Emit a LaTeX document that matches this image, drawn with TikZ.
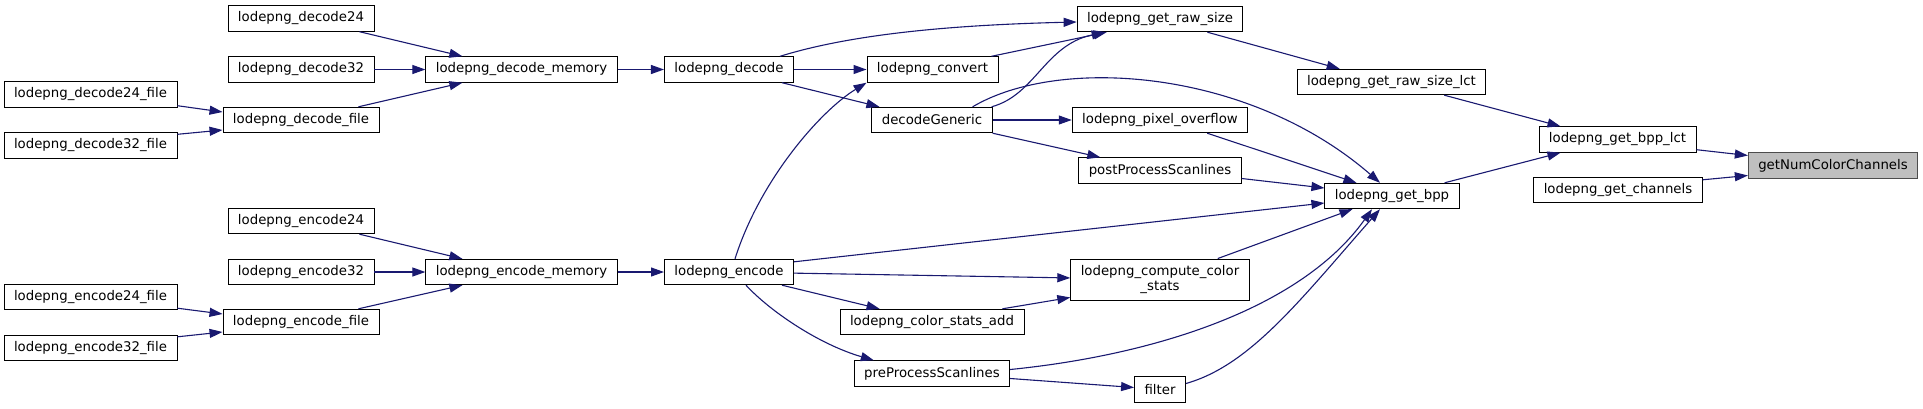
\documentclass[tikz,border=0pt]{standalone}
\usepackage{fontspec}
\setmainfont{DejaVu Sans}
\usepackage{xcolor}
\usepackage{tikz}
\usetikzlibrary{arrows.meta,calc}
\definecolor{edgeblue}{HTML}{191970}
\definecolor{hilite}{HTML}{BFBFBF}

\begin{document}
\begin{tikzpicture}[x=1pt,y=-1pt,
        fn/.style={draw=black,fill=white,line width=0.9pt,inner xsep=10pt,inner ysep=0pt,
                minimum height=25.5pt,font=\fontsize{13.3}{15.5}\selectfont},
        call/.style={draw=edgeblue,line width=1.1pt,-{Triangle[length=13pt,width=9pt]}}]
        \useasboundingbox (0,0) rectangle (1923,408);
        \node[fn] (d24) at (301,18.5) {lodepng\_decode24};
        \node[fn] (d32) at (301,69.5) {lodepng\_decode32};
        \node[fn] (dmem) at (521.5,69.5) {lodepng\_decode\_memory};
        \node[fn] (d24f) at (90.5,94.5) {lodepng\_decode24\_file};
        \node[fn] (dfile) at (301,120) {lodepng\_decode\_file};
        \node[fn] (d32f) at (90.5,145.5) {lodepng\_decode32\_file};
        \node[fn] (e24) at (301,221) {lodepng\_encode24};
        \node[fn] (e32) at (301,272) {lodepng\_encode32};
        \node[fn] (emem) at (521.5,272) {lodepng\_encode\_memory};
        \node[fn] (e24f) at (90.5,297) {lodepng\_encode24\_file};
        \node[fn] (efile) at (301,322) {lodepng\_encode\_file};
        \node[fn] (e32f) at (90.5,348) {lodepng\_encode32\_file};
        \node[fn] (dec) at (729,69.5) {lodepng\_decode};
        \node[fn] (conv) at (932.5,69.5) {lodepng\_convert};
        \node[fn] (dgen) at (932,120) {decodeGeneric};
        \node[fn] (enc) at (729,272) {lodepng\_encode};
        \node[fn] (csadd) at (932,322) {lodepng\_color\_stats\_add};
        \node[fn] (pre) at (932,373.5) {preProcessScanlines};
        \node[fn] (rawsz) at (1160,19) {lodepng\_get\_raw\_size};
        \node[fn] (pixov) at (1160,120) {lodepng\_pixel\_overflow};
        \node[fn] (post) at (1160,170.5) {postProcessScanlines};
        \node[fn,align=center,minimum height=41pt] (ccs) at (1160,279.5) {lodepng\_compute\_color\\\_stats};
        \node[fn] (filt) at (1160,389.5) {filter};
        \node[fn] (rawlct) at (1391.5,82) {lodepng\_get\_raw\_size\_lct};
        \node[fn] (bpp) at (1392,196) {lodepng\_get\_bpp};
        \node[fn] (bpplct) at (1617.5,139.5) {lodepng\_get\_bpp\_lct};
        \node[fn] (chan) at (1618,190) {lodepng\_get\_channels};
        \node[fn,draw=black!70,fill=hilite] (ncc) at (1833,165.5) {getNumColorChannels};

        \draw[call] ($(d24.south east)+(-15,0)$) -- ($(dmem.north west)+(37,0)$);
        \draw[call] (d32) -- (dmem);
        \draw[call] ($(dfile.north east)+(-21,0)$) -- ($(dmem.south west)+(37,0)$);
        \draw[call] ($(d24f.south east)+(0,-2)$) -- ($(dfile.west)+(0,-8)$);
        \draw[call] ($(d32f.north east)+(0,2)$) -- ($(dfile.west)+(0,10)$);
        \draw[call] (dmem) -- (dec);
        \draw[call] ($(e24.south east)+(-15,0)$) -- ($(emem.north west)+(37,0)$);
        \draw[call] (e32) -- (emem);
        \draw[call] ($(efile.north east)+(-21,0)$) -- ($(emem.south west)+(37,0)$);
        \draw[call] ($(e24f.south east)+(0,-2)$) -- ($(efile.west)+(0,-8)$);
        \draw[call] ($(e32f.north east)+(0,2)$) -- ($(efile.west)+(0,10)$);
        \draw[call] (emem) -- (enc);

        \draw[call] ($(dec.north east)+(-14,0)$) .. controls +(71,-22) and +(-127,3) .. ($(rawsz.west)+(0,3)$);
        \draw[call] (dec) -- (conv);
        \draw[call] ($(dec.south east)+(-12,0)$) -- ($(dgen.north west)+(8,0)$);
        \draw[call] ($(conv.north east)+(-7,0)$) -- ($(rawsz.south west)+(30,0)$);
        \draw[call] ($(dgen.north east)+(-1,0)$) .. controls +(44,-12) and +(-60,13) .. ($(rawsz.south west)+(28,0)$);
        \draw[call] (dgen) -- (pixov);
        \draw[call] (dgen.south east) -- ($(post.north west)+(22,0)$);
        \draw[call] ($(dgen.north east)+(-20,0)$) .. controls +(88,-52) and +(-130,-113) .. ($(bpp.north)+(-12,0)$);
        \draw[call] ($(enc.north)+(6,0)$) .. controls +(25,-79) and +(-46,28) .. (conv.south west);
        \draw[call] (enc) -- (ccs);
        \draw[call] ($(enc.south east)+(-12,0)$) -- ($(csadd.north west)+(40,0)$);
        \draw[call] ($(enc.south)+(17,0)$) .. controls +(24,26) and +(-55,-16) .. ($(pre.north west)+(20,0)$);
        \draw[call] ($(csadd.north east)+(-22,0)$) -- ($(ccs.south west)+(0,-3)$);
        \draw[call] ($(pre.east)+(0,5)$) -- ($(filt.west)+(0,-2)$);

        \draw[call] ($(rawsz.south east)+(-36,0)$) -- ($(rawlct.north west)+(43,0)$);
        \draw[call] ($(rawlct.south east)+(-42,0)$) -- ($(bpplct.north west)+(22,0)$);
        \draw[call] ($(pixov.south east)+(-41,0)$) -- ($(bpp.north west)+(32,0)$);
        \draw[call] ($(post.east)+(0,8)$) -- ($(bpp.west)+(0,-8)$);
        \draw[call] ($(enc.north east)+(0,3)$) -- ($(bpp.west)+(0,7)$);
        \draw[call] ($(ccs.north east)+(-32,0)$) -- ($(bpp.south west)+(28,0)$);
        \draw[call] ($(pre.east)+(0,-4)$) .. controls +(140,-14) and +(-72,101) .. ($(bpp.south)+(-20,0)$);
        \draw[call] ($(filt.east)+(0,-6)$) .. controls +(64,-18) and +(-80,91) .. ($(bpp.south)+(-12,0)$);
        \draw[call] ($(bpp.north east)+(-15,0)$) -- ($(bpplct.south west)+(22,0)$);
        \draw[call] ($(bpplct.south east)+(0,-3)$) -- ($(ncc.west)+(0,-10)$);
        \draw[call] ($(chan.north east)+(0,3)$) -- ($(ncc.west)+(0,10)$);
\end{tikzpicture}
\end{document}
